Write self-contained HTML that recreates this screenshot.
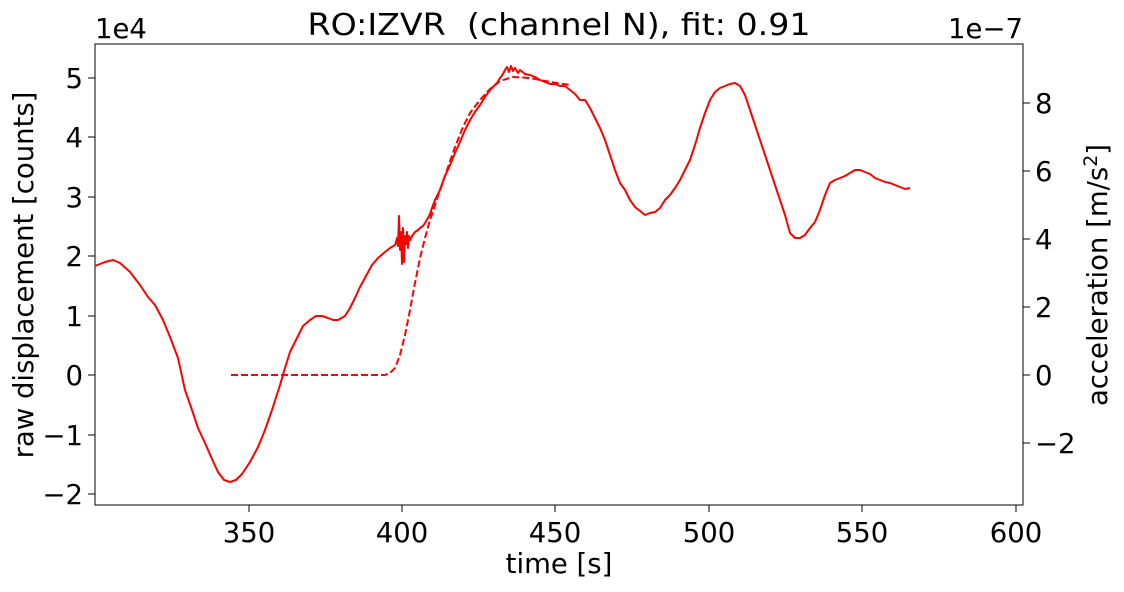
<!DOCTYPE html>
<html><head><meta charset="utf-8"><style>
body{margin:0;background:#fff;}
svg text{font-family:"DejaVu Sans","Liberation Sans",sans-serif;fill:#000;}
</style></head><body>
<svg width="1124" height="587" viewBox="0 0 1124 587" xmlns="http://www.w3.org/2000/svg">
<rect x="0" y="0" width="1124" height="587" fill="#fff"/>
<rect x="95" y="44" width="928" height="461" fill="none" stroke="#000" stroke-width="1"/>
<g stroke="#000" stroke-width="1">
<line x1="249" y1="505" x2="249" y2="512"/><line x1="402" y1="505" x2="402" y2="512"/>
<line x1="555" y1="505" x2="555" y2="512"/><line x1="709" y1="505" x2="709" y2="512"/>
<line x1="862" y1="505" x2="862" y2="512"/><line x1="1016" y1="505" x2="1016" y2="512"/>
<line x1="88" y1="78" x2="95" y2="78"/><line x1="88" y1="137" x2="95" y2="137"/>
<line x1="88" y1="197" x2="95" y2="197"/><line x1="88" y1="256" x2="95" y2="256"/>
<line x1="88" y1="316" x2="95" y2="316"/><line x1="88" y1="375" x2="95" y2="375"/>
<line x1="88" y1="435" x2="95" y2="435"/><line x1="88" y1="494" x2="95" y2="494"/>
<line x1="1023" y1="103" x2="1030" y2="103"/><line x1="1023" y1="171" x2="1030" y2="171"/>
<line x1="1023" y1="239" x2="1030" y2="239"/><line x1="1023" y1="307" x2="1030" y2="307"/>
<line x1="1023" y1="375" x2="1030" y2="375"/><line x1="1023" y1="443" x2="1030" y2="443"/>
</g>
<g font-size="27.5" text-anchor="middle">
<text x="249" y="542">350</text><text x="402" y="542">400</text><text x="555" y="542">450</text>
<text x="709" y="542">500</text><text x="862" y="542">550</text><text x="1016" y="542">600</text>
<text x="559" y="573">time [s]</text>
</g>
<g font-size="27.5" text-anchor="end">
<text x="83" y="88">5</text><text x="83" y="147">4</text><text x="83" y="207">3</text>
<text x="83" y="266">2</text><text x="83" y="326">1</text><text x="83" y="385">0</text>
<text x="83" y="445">−1</text><text x="83" y="504">−2</text>
</g>
<g font-size="27.5" text-anchor="start">
<text x="1035" y="113">8</text><text x="1035" y="181">6</text><text x="1035" y="249">4</text>
<text x="1035" y="317">2</text><text x="1035" y="385">0</text><text x="1035" y="453">−2</text>
</g>
<text x="95" y="38" font-size="27.5">1e4</text>
<text x="1023" y="38" font-size="27.5" text-anchor="end">1e−7</text>
<text x="559" y="35" font-size="30" text-anchor="middle" textLength="503" lengthAdjust="spacingAndGlyphs" xml:space="preserve">RO:IZVR  (channel N), fit: 0.91</text>
<text transform="translate(33,275) rotate(-90)" font-size="27.5" text-anchor="middle">raw displacement [counts]</text>
<text transform="translate(1107,275) rotate(-90)" font-size="27.5" text-anchor="middle">acceleration [m/s<tspan dy="-10" font-size="19">2</tspan><tspan dy="10">]</tspan></text>
<polyline fill="none" stroke="#f00" stroke-width="2" stroke-linejoin="round" points="95,266 105,262 113,260 120,263 130,272 140,285 148,297 155,305 163,320 170,337 178,358 185,390 192,410 198,428 205,443 212,459 218,472 224,480 230,482 236,480 242,474 250,462 258,447 265,430 272,410 280,385 285,368 290,352 296,340 303,326 310,320 316,316 322,316 328,318 333,320 338,320 345,316 350,308 355,298 360,287 366,276 372,265 378,258 385,252 390,248 395,245 396,242 397,238 398,246 399,216 400,250 401,232 402,264 403,228 404,262 405,236 406,244 407,232 408,248 409,236 410,240 412,236 415,232 418,230 420,228 423,226 425,223 428,218 430,214 432,208 435,200 440,190 445,176 450,165 455,153 460,142 465,130 470,120 475,112 480,105 485,97 490,90 494,86 497,83 500,78 503,74 505,70 507,67 509,72 511,66 513,71 515,68 518,73 520,70 525,74 530,75 535,77 540,80 545,82 550,84 555,84 560,86 565,86 570,90 575,94 580,100 585,100 590,108 595,118 600,128 605,140 610,155 615,170 620,183 625,190 630,200 635,207 640,211 645,215 650,213 655,212 660,208 665,200 670,195 675,188 680,180 685,170 690,160 695,145 700,128 705,113 710,100 715,92 720,88 725,86 730,84 735,83 740,86 745,95 750,110 755,125 760,140 765,155 770,170 775,185 780,200 785,215 790,233 795,238 800,238 805,235 810,228 815,222 820,210 825,195 830,183 835,180 840,178 845,176 850,173 855,170 860,170 865,172 870,174 875,178 880,180 885,182 890,183 895,185 900,187 905,189 910,188"/>
<polyline fill="none" stroke="#f00" stroke-width="2" stroke-dasharray="7,3" points="231,375 385,375 390,373 395,368 400,355 405,335 410,310 415,283 420,258 425,238 430,220 440,190 447,170 455,147 463,127 470,113 480,100 490,89 500,81 513,77 530,78 550,82 570,85"/>
</svg>
</body></html>
